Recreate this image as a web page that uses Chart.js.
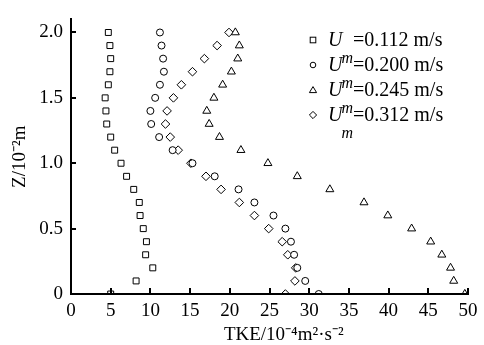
<!DOCTYPE html>
<html>
<head>
<meta charset="utf-8">
<script src="https://cdn.jsdelivr.net/npm/chart.js@4.4.0/dist/chart.umd.min.js"></script>
<style>
  html, body { margin:0; padding:0; background:#fff; }
  #wrap { position:relative; width:484px; height:345px; overflow:hidden; background:#fff; }
  #c { position:absolute; left:0; top:0; }
  .lg { position:absolute; left:305px; height:20px; line-height:20px; white-space:nowrap;
        font-family:"Liberation Serif","Times New Roman",serif; font-size:20px; color:#000; }
  .lg svg { position:absolute; left:0; top:0; }
  .lg .t { position:absolute; left:23px; top:0; }
  .lg i.sub { font-size:16px; position:relative; top:17px; margin-left:-1px; }
</style>
</head>
<body>
<div id="wrap">
  <canvas id="c" width="484" height="345"></canvas>
</div>
<script>
// ---- data ----
const zLevels = [0, 0.1, 0.2, 0.3, 0.4, 0.5, 0.6, 0.7, 0.8, 0.9, 1.0, 1.1, 1.2, 1.3, 1.4, 1.5, 1.6, 1.7, 1.8, 1.9, 2.0];
const seriesNames = ["0.112", "0.200", "0.245", "0.312"];
const tke0112 = [5.0, 8.2, 10.3, 9.4, 9.5, 9.1, 8.7, 8.6, 7.9, 7.0, 6.3, 5.5, 5.0, 4.5, 4.4, 4.3, 4.7, 4.9, 5.0, 4.9, 4.7];
const tke0200 = [31.2, 29.5, 28.5, 28.1, 27.7, 27.0, 25.5, 23.1, 21.1, 18.1, 15.3, 12.8, 11.1, 10.1, 10.0, 10.6, 11.2, 11.7, 11.6, 11.4, 11.2];
const tke0245 = [49.6, 48.2, 47.8, 46.7, 45.3, 42.9, 39.9, 36.9, 32.6, 28.5, 24.8, 21.4, 18.7, 17.4, 17.1, 18.0, 19.1, 20.2, 21.0, 21.2, 20.7];
const tke0312 = [27.0, 28.2, 28.3, 27.3, 26.6, 24.9, 23.1, 21.2, 18.9, 17.0, 15.1, 13.5, 12.5, 11.9, 12.1, 12.9, 13.9, 15.3, 16.8, 18.4, 19.9];
const xTicks = [0, 5, 10, 15, 20, 25, 30, 35, 40, 45, 50];
const yTicks = [0, 0.5, 1.0, 1.5, 2.0];
const yTickLabels = ["0", "0.5", "1.0", "1.5", "2.0"];
const xTitle = "\u2002\u2002\u2002TKE/10\u207B\u2074m\u00B2\u00B7s\u207B\u00B2";
const yTitle = "Z/10\u207B\u00B2m";

// ---- styles ----
const FONT = '"Liberation Serif","Times New Roman",serif';
const styles = [
  { pointStyle: 'rect', radius: 4.2 },
  { pointStyle: 'circle', radius: 3.5 },
  { pointStyle: 'triangle', radius: 4.6 },
  { pointStyle: 'rectRot', radius: 4.3 }
];
const allSeries = [tke0112, tke0200, tke0245, tke0312];

const datasets = allSeries.map((vals, i) => ({
  label: 'Um=' + seriesNames[i] + ' m/s',
  data: vals.map((v, k) => ({ x: v, y: zLevels[k] })),
  showLine: false,
  clip: { left: 8, top: 8, right: 8, bottom: -1 },
  pointStyle: styles[i].pointStyle,
  pointRadius: styles[i].radius,
  pointBorderColor: '#000',
  pointBackgroundColor: '#fff',
  pointBorderWidth: 1,
  borderColor: '#000',
  backgroundColor: '#fff'
}));

const insideTicks = {
  id: 'insideTicks',
  afterDraw(chart) {
    const { ctx, chartArea } = chart;
    const x = chart.scales.x, y = chart.scales.y;
    ctx.save();
    ctx.strokeStyle = '#000';
    ctx.lineWidth = 2;
    xTicks.forEach(v => {
      const px = Math.round(x.getPixelForValue(v));
      ctx.beginPath();
      ctx.moveTo(px, chartArea.bottom);
      ctx.lineTo(px, chartArea.bottom - 6);
      ctx.stroke();
    });
    yTicks.forEach(v => {
      const py = Math.round(y.getPixelForValue(v));
      ctx.beginPath();
      ctx.moveTo(chartArea.left, py);
      ctx.lineTo(chartArea.left + 5, py);
      ctx.stroke();
    });
    ctx.restore();
  }
};

new Chart(document.getElementById('c'), {
  type: 'scatter',
  data: { datasets },
  plugins: [insideTicks],
  options: {
    responsive: false,
    animation: false,
    devicePixelRatio: 1,
    layout: { padding: { top: 11, right: 16, left: 0, bottom: 0 } },
    plugins: { legend: { display: false }, tooltip: { enabled: false } },
    scales: {
      x: {
        type: 'linear', min: 0, max: 50,
        afterBuildTicks: s => { s.ticks = xTicks.map(v => ({ value: v })); },
        afterFit: s => { s.height = 51; },
        grid: { display: false, drawTicks: false, drawOnChartArea: false },
        border: { display: true, color: '#000', width: 2 },
        ticks: { color: '#000', font: { family: FONT, size: 19 }, padding: 6, maxRotation: 0, autoSkip: false,
                 callback: v => String(v) },
        title: { display: true, text: xTitle, color: '#000', font: { family: FONT, size: 19, lineHeight: 1 },
                 padding: { top: 0, bottom: 0 } }
      },
      y: {
        type: 'linear', min: 0, max: 2.1,
        afterBuildTicks: s => { s.ticks = yTicks.map(v => ({ value: v })); },
        afterFit: s => { s.width = 71; },
        grid: { display: false, drawTicks: false, drawOnChartArea: false },
        border: { display: true, color: '#000', width: 2 },
        ticks: { color: '#000', font: { family: FONT, size: 19 }, padding: 8, autoSkip: false,
                 callback: (v) => { const i = yTicks.indexOf(v); return i >= 0 ? yTickLabels[i] : ''; } },
        title: { display: true, text: yTitle, color: '#000', font: { family: FONT, size: 19, lineHeight: 1 },
                 padding: { top: 11, bottom: 0 } }
      }
    }
  }
});

// ---- legend (HTML text, italic U with subscript m) ----
const legendSymbols = [
  '<rect x="2.2" y="2.2" width="5.6" height="5.6" fill="#fff" stroke="#000" stroke-width="1"/>',
  '<circle cx="5" cy="5" r="2.8" fill="#fff" stroke="#000" stroke-width="1"/>',
  '<polygon points="5,1.6 8.6,7.6 1.4,7.6" fill="#fff" stroke="#000" stroke-width="1"/>',
  '<polygon points="5,1.4 8.6,5 5,8.6 1.4,5" fill="#fff" stroke="#000" stroke-width="1"/>'
];
const legendCenters = [39.5, 64.5, 90, 115];
const wrap = document.getElementById('wrap');
seriesNames.forEach((name, i) => {
  const d = document.createElement('div');
  d.className = 'lg';
  const top = legendCenters[i] - 11;
  d.style.top = top + 'px';
  d.innerHTML = '<svg width="10" height="10" viewBox="0 0 10 10" style="top:6px;left:3px">' + legendSymbols[i] + '</svg>' +
    '<span class="t"><i>U</i><i class="sub">m</i>=' + name + ' m/s</span>';
  wrap.appendChild(d);
});
</script>
</body>
</html>
